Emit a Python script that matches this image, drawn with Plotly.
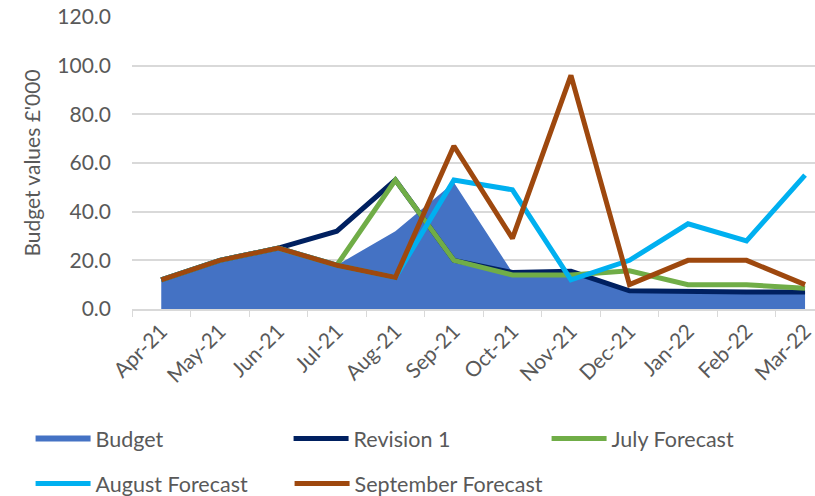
import plotly.graph_objects as go

months = ["Apr-21", "May-21", "Jun-21", "Jul-21", "Aug-21", "Sep-21",
          "Oct-21", "Nov-21", "Dec-21", "Jan-22", "Feb-22", "Mar-22"]
budget = [12, 20, 25, 18, 32, 52, 15, 15, 8, 7, 7, 7]
revision1 = [12, 20, 25, 32, 53, 20, 15, 15.5, 7.5, 7, 7, 7]
july_forecast = [12, 20, 25, 18, 53, 20, 14, 14, 15.7, 10, 10, 8.5]
august_forecast = [12, 20, 25, 18, 13, 53, 49, 12, 20, 35, 28, 55]
september_forecast = [12, 20, 25, 18, 13, 67, 29, 96, 10, 20, 20, 10]
y_ticks = [0, 20, 40, 60, 80, 100, 120]

FONT = "Lato"
TXT = "#595959"
GRID = "#D9D9D9"
LW = 5

fig = go.Figure()
fig.add_trace(go.Scatter(x=months, y=budget, name="Budget", mode="none",
                         fill="tozeroy", fillcolor="#4472C4", legend="legend"))
fig.add_trace(go.Scatter(x=months, y=revision1, name="Revision 1", mode="lines",
                         line=dict(color="#002060", width=LW), legend="legend"))
fig.add_trace(go.Scatter(x=months, y=july_forecast, name="July Forecast", mode="lines",
                         line=dict(color="#70AD47", width=LW), legend="legend"))
fig.add_trace(go.Scatter(x=months, y=august_forecast, name="August Forecast", mode="lines",
                         line=dict(color="#00B0F0", width=LW), legend="legend2"))
fig.add_trace(go.Scatter(x=months, y=september_forecast, name="September Forecast", mode="lines",
                         line=dict(color="#9E480E", width=LW), legend="legend3"))

legend_common = dict(orientation="h", xanchor="left", yanchor="middle",
                     font=dict(family=FONT, size=21.5, color=TXT),
                     entrywidthmode="pixels", entrywidth=188,
                     bgcolor="rgba(0,0,0,0)", itemwidth=55)

LX = -0.1485
STEP = 259 / 683

fig.update_layout(
    width=815, height=496,
    margin=dict(l=132, r=0, t=17, b=187, autoexpand=False),
    paper_bgcolor="white", plot_bgcolor="white",
    font=dict(family=FONT, size=21, color=TXT),
    showlegend=True,
    legend=dict(x=LX, y=-0.444, **legend_common),
    legend2=dict(x=LX, y=-0.598, **legend_common),
    legend3=dict(x=LX + STEP, y=-0.598, **legend_common),
    xaxis=dict(range=[-0.5, 11.17], tickangle=-45, showgrid=False, automargin=False,
               showline=True, linecolor=GRID, linewidth=1.5,
               ticks="outside", tickson="boundaries", ticklen=6, tickcolor=GRID,
               tickfont=dict(family=FONT, size=21, color=TXT)),
    yaxis=dict(range=[0, 120], tickvals=y_ticks, tickformat=".1f", automargin=False,
               showgrid=True, gridcolor=GRID, gridwidth=1.5, zeroline=False,
               showline=False, ticklabelstandoff=20,
               tickfont=dict(family=FONT, size=21, color=TXT),
               title=dict(text="Budget values £'000", standoff=10,
                          font=dict(family=FONT, size=21, color=TXT))),
)

fig.write_html("out.html", config={"displayModeBar": False},
               post_script="document.body.style.margin='0';document.body.style.overflow='hidden';")
